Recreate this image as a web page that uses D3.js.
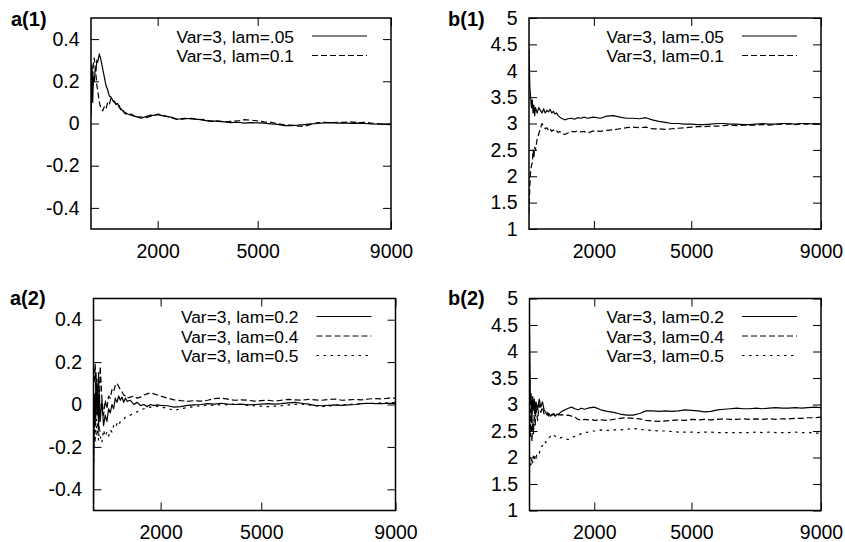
<!DOCTYPE html>
<html>
<head>
<meta charset="utf-8">
<script src="https://cdn.jsdelivr.net/npm/d3@7"></script>
<style>
    body { margin: 0; background: #fff; }
    svg { display: block; font-family: "Liberation Sans", Arial, Helvetica, sans-serif; }
</style>
</head>
<body>
<script>
// iteration steps shared by every series
const steps = [0, 25, 50, 75, 100, 125, 150, 175, 200, 250, 300, 350, 400, 450, 500, 550, 600, 650, 700, 750,
    800, 850, 900, 950, 1000, 1100, 1200, 1300, 1400, 1500, 1600, 1700, 1800, 1900, 2000, 2200, 2400, 2600, 2800, 3000,
    3200, 3400, 3600, 3800, 4000, 4200, 4400, 4600, 4800, 5000, 5200, 5400, 5600, 5800, 6000, 6200, 6400, 6600, 6800, 7000,
    7200, 7400, 7600, 7800, 8000, 8200, 8400, 8600, 8800, 9000];

// a(1)
const a1Lam05 = [0.03, 0.25, 0.1, 0.22, 0.2, 0.26, 0.25, 0.3, 0.29, 0.33, 0.3, 0.26, 0.22, 0.18, 0.16, 0.13, 0.125, 0.11, 0.105, 0.09,
    0.095, 0.075, 0.07, 0.06, 0.055, 0.045, 0.04, 0.035, 0.03, 0.025, 0.03, 0.035, 0.04, 0.038, 0.042, 0.035, 0.03, 0.02, 0.025, 0.022,
    0.02, 0.015, 0.01, 0.012, 0.008, 0.004, 0.006, 0.002, 0.004, 0.003, 0.002, -0.002, -0.004, -0.01, -0.01, -0.008, -0.005, -0.002, 0.0, 0.003,
    0.004, 0.002, 0.003, 0.001, 0.002, 0.0, -0.002, -0.003, -0.004, -0.003];
const a1Lam1 = [0.08, 0.28, 0.2, 0.3, 0.31, 0.27, 0.23, 0.18, 0.16, 0.1, 0.07, 0.06, 0.08, 0.07, 0.1, 0.09, 0.12, 0.11, 0.1, 0.095,
    0.08, 0.085, 0.06, 0.065, 0.05, 0.04, 0.045, 0.035, 0.03, 0.032, 0.025, 0.03, 0.035, 0.04, 0.045, 0.038, 0.028, 0.018, 0.022, 0.025,
    0.02, 0.018, 0.012, 0.01, 0.008, 0.01, 0.012, 0.018, 0.016, 0.012, 0.008, 0.005, 0.0, -0.006, -0.008, -0.012, -0.014, -0.004, 0.004, 0.006,
    0.004, 0.006, 0.005, 0.008, 0.004, 0.006, 0.002, 0.0, -0.004, -0.005];

// b(1)
const b1Lam05 = [4.4, 3.7, 3.5, 3.3, 3.45, 3.2, 3.35, 3.15, 3.3, 3.2, 3.3, 3.25, 3.2, 3.28, 3.2, 3.25, 3.22, 3.27, 3.2, 3.23,
    3.18, 3.2, 3.15, 3.12, 3.1, 3.07, 3.09, 3.1, 3.08, 3.11, 3.1, 3.12, 3.1, 3.11, 3.12, 3.1, 3.14, 3.15, 3.12, 3.1,
    3.1, 3.09, 3.11, 3.07, 3.04, 3.02, 3.0, 3.0, 2.99, 2.99, 2.98, 2.98, 2.99, 3.0, 3.0, 2.99, 2.99, 2.98, 2.98, 2.99,
    3.0, 2.99, 2.99, 3.0, 3.0, 2.99, 3.0, 3.0, 2.99, 2.99];
const b1Lam1 = [1.3, 1.8, 2.1, 2.2, 2.25, 2.5, 2.35, 2.55, 2.5, 2.7, 2.8, 2.9, 3.0, 2.95, 2.9, 2.92, 2.87, 2.9, 2.85, 2.88,
    2.84, 2.86, 2.83, 2.85, 2.82, 2.79, 2.82, 2.85, 2.84, 2.86, 2.84, 2.85, 2.82, 2.84, 2.86, 2.85, 2.87, 2.88, 2.9, 2.92,
    2.93, 2.92, 2.93, 2.9, 2.9, 2.89, 2.9, 2.91, 2.92, 2.93, 2.94, 2.94, 2.95, 2.95, 2.96, 2.97, 2.96, 2.97, 2.97, 2.97,
    2.98, 2.97, 2.98, 2.99, 2.99, 2.98, 2.99, 2.99, 3.0, 2.99];

// a(2)
const a2Lam2 = [-0.5, 0.05, -0.1, 0.15, -0.05, 0.1, -0.12, 0.05, -0.08, 0.02, -0.1, -0.05, -0.08, -0.02, -0.04, 0.0, -0.02, 0.03, 0.01, 0.04,
    0.02, 0.035, 0.01, 0.03, 0.015, 0.02, 0.0, 0.01, -0.005, 0.0, -0.01, 0.0, -0.005, -0.002, -0.004, -0.006, -0.012, -0.01, -0.004, -0.002,
    0.0, 0.004, 0.002, 0.006, 0.002, 0.0, 0.002, -0.002, 0.0, 0.002, 0.004, 0.002, 0.004, 0.008, 0.01, 0.006, 0.002, -0.004, -0.006, -0.004,
    -0.002, -0.004, -0.002, 0.0, 0.004, 0.006, 0.004, 0.004, 0.006, 0.005];
const a2Lam4 = [0.18, 0.1, 0.19, 0.02, 0.12, -0.05, 0.15, 0.0, 0.18, 0.03, -0.05, 0.02, -0.02, 0.04, 0.03, 0.07, 0.06, 0.09, 0.1, 0.085,
    0.07, 0.06, 0.045, 0.04, 0.03, 0.035, 0.04, 0.03, 0.035, 0.045, 0.05, 0.055, 0.05, 0.045, 0.04, 0.03, 0.022, 0.018, 0.015, 0.018,
    0.016, 0.02, 0.028, 0.03, 0.025, 0.02, 0.022, 0.02, 0.016, 0.018, 0.02, 0.016, 0.02, 0.024, 0.022, 0.02, 0.024, 0.022, 0.02, 0.024,
    0.026, 0.02, 0.022, 0.024, 0.022, 0.026, 0.028, 0.026, 0.03, 0.03];
const a2Lam5 = [-0.3, -0.05, -0.18, 0.0, -0.15, -0.08, -0.17, -0.1, -0.15, -0.18, -0.12, -0.15, -0.13, -0.15, -0.12, -0.13, -0.1, -0.11, -0.09, -0.1,
    -0.08, -0.075, -0.07, -0.06, -0.055, -0.05, -0.04, -0.035, -0.025, -0.02, -0.015, -0.012, -0.01, -0.008, -0.012, -0.018, -0.028, -0.02, -0.014, -0.01,
    -0.006, -0.002, -0.004, 0.0, -0.002, 0.002, 0.0, -0.004, -0.006, -0.008, -0.01, -0.008, -0.006, -0.002, 0.0, 0.002, -0.002, -0.006, -0.01, -0.008,
    -0.004, -0.002, 0.0, 0.002, 0.004, 0.006, 0.006, 0.008, 0.008, 0.01];

// b(2)
const b2Lam2 = [4.4, 3.0, 3.2, 2.7, 3.15, 2.9, 3.1, 2.85, 3.05, 2.9, 3.1, 2.95, 3.05, 2.9, 2.85, 2.8, 2.83, 2.78, 2.82, 2.8,
    2.78, 2.82, 2.8, 2.85, 2.87, 2.9, 2.93, 2.95, 2.92, 2.9, 2.93, 2.91, 2.93, 2.94, 2.95, 2.9, 2.87, 2.85, 2.82, 2.8,
    2.8, 2.83, 2.88, 2.88, 2.87, 2.88, 2.87, 2.88, 2.9, 2.89, 2.88, 2.86, 2.87, 2.9, 2.91, 2.92, 2.93, 2.92, 2.92, 2.93,
    2.92, 2.93, 2.94, 2.93, 2.93, 2.94, 2.93, 2.94, 2.95, 2.94];
const b2Lam4 = [3.8, 2.4, 2.9, 2.3, 2.7, 2.45, 2.9, 2.6, 2.95, 2.7, 3.0, 2.85, 2.95, 2.82, 2.8, 2.85, 2.78, 2.82, 2.8, 2.83,
    2.79, 2.8, 2.82, 2.8, 2.81, 2.79, 2.8, 2.78, 2.76, 2.72, 2.7, 2.72, 2.71, 2.72, 2.7, 2.71, 2.7, 2.72, 2.74, 2.75,
    2.74, 2.73, 2.7, 2.69, 2.68, 2.69, 2.7, 2.71, 2.7, 2.72, 2.71, 2.72, 2.71, 2.72, 2.73, 2.72, 2.72, 2.73, 2.72, 2.73,
    2.72, 2.73, 2.72, 2.73, 2.73, 2.74, 2.74, 2.75, 2.75, 2.76];
const b2Lam5 = [1.7, 2.0, 1.85, 2.0, 1.9, 2.05, 1.98, 2.05, 2.0, 2.1, 2.08, 2.2, 2.22, 2.3, 2.28, 2.35, 2.37, 2.4, 2.38, 2.42,
    2.4, 2.38, 2.39, 2.37, 2.38, 2.35, 2.34, 2.37, 2.4, 2.42, 2.45, 2.47, 2.48, 2.5, 2.5, 2.52, 2.51, 2.52, 2.52, 2.53,
    2.55, 2.53, 2.52, 2.51, 2.5, 2.5, 2.49, 2.48, 2.48, 2.48, 2.47, 2.48, 2.48, 2.47, 2.47, 2.47, 2.47, 2.47, 2.47, 2.48,
    2.47, 2.48, 2.47, 2.47, 2.47, 2.48, 2.47, 2.47, 2.46, 2.46];

// ticks
const xTicks = [2000, 5000, 9000];
const aTicks = [-0.4, -0.2, 0, 0.2, 0.4];
const aTickLabels = ["-0.4", "-0.2", "0", "0.2", "0.4"];
const bTicks = [1, 1.5, 2, 2.5, 3, 3.5, 4, 4.5, 5];
const bTickLabels = ["1", "1.5", "2", "2.5", "3", "3.5", "4", "4.5", "5"];

const dashes = { solid: null, dashed: "6,3", dotted: "2.5,4.5" };

let wSvg = 845;
let hSvg = 542;
let fontSize = 19.5;
let legendSize = 17.4; // rows are packed tight, keep the boxes from touching
let tick = 8;

let panels = [
    {
        title: "a(1)", tx: 11, ty: 26, left: 91, right: 391, top: 18, bottom: 229,
        yDomain: [-0.5, 0.5], yTicks: aTicks, yLabels: aTickLabels,
        series: [
            { name: "Var=3, lam=.05", values: a1Lam05, style: "solid" },
            { name: "Var=3, lam=0.1", values: a1Lam1, style: "dashed" },
        ],
    },
    {
        title: "b(1)", tx: 448, ty: 26, left: 529, right: 821, top: 18, bottom: 229,
        yDomain: [1, 5], yTicks: bTicks, yLabels: bTickLabels,
        series: [
            { name: "Var=3, lam=.05", values: b1Lam05, style: "solid" },
            { name: "Var=3, lam=0.1", values: b1Lam1, style: "dashed" },
        ],
    },
    {
        title: "a(2)", tx: 10, ty: 305, left: 93.5, right: 395.5, top: 298.5, bottom: 510.5,
        yDomain: [-0.5, 0.5], yTicks: aTicks, yLabels: aTickLabels,
        series: [
            { name: "Var=3, lam=0.2", values: a2Lam2, style: "solid" },
            { name: "Var=3, lam=0.4", values: a2Lam4, style: "dashed" },
            { name: "Var=3, lam=0.5", values: a2Lam5, style: "dotted" },
        ],
    },
    {
        title: "b(2)", tx: 448, ty: 305, left: 529.5, right: 821, top: 298.5, bottom: 510.5,
        yDomain: [1, 5], yTicks: bTicks, yLabels: bTickLabels,
        series: [
            { name: "Var=3, lam=0.2", values: b2Lam2, style: "solid" },
            { name: "Var=3, lam=0.4", values: b2Lam4, style: "dashed" },
            { name: "Var=3, lam=0.5", values: b2Lam5, style: "dotted" },
        ],
    },
];

let svg = d3
    .select("body")
    .append("svg")
    .attr("width", wSvg)
    .attr("height", hSvg);

panels.forEach((p, pi) => {
    let x = d3.scaleLinear().domain([0, 9000]).range([p.left, p.right]);
    let y = d3.scaleLinear().domain(p.yDomain).range([p.bottom, p.top]);

    let g = svg.append("g");

    // clip so the early spikes stay inside the frame
    svg.append("clipPath")
        .attr("id", "clip" + pi)
        .append("rect")
        .attr("x", p.left)
        .attr("y", p.top)
        .attr("width", p.right - p.left)
        .attr("height", p.bottom - p.top);

    // axes, ticks point inwards on all four sides
    let left = g.append("g")
        .attr("transform", `translate(${p.left},0)`)
        .call(d3.axisLeft(y).tickValues(p.yTicks).tickFormat((d, i) => p.yLabels[i]).tickSize(-tick).tickPadding(11.5));
    let right = g.append("g")
        .attr("transform", `translate(${p.right},0)`)
        .call(d3.axisRight(y).tickValues(p.yTicks).tickFormat("").tickSize(-tick));
    let bottom = g.append("g")
        .attr("transform", `translate(0,${p.bottom})`)
        .call(d3.axisBottom(x).tickValues(xTicks).tickFormat(d3.format("d")).tickSize(-tick).tickPadding(15));
    let top = g.append("g")
        .attr("transform", `translate(0,${p.top})`)
        .call(d3.axisTop(x).tickValues(xTicks).tickFormat("").tickSize(-tick));

    [left, right, bottom, top].forEach((a) => {
        a.select(".domain").remove();
        a.selectAll("line").attr("stroke", "#000").attr("stroke-width", 1);
        a.selectAll("text")
            .attr("fill", "#000")
            .style("font-size", fontSize + "px")
            .style("font-family", '"Liberation Sans", Arial, sans-serif');
    });

    // data lines
    let line = d3.line()
        .x((d, i) => x(steps[i]))
        .y((d) => y(d));

    g.append("g")
        .attr("clip-path", `url(#clip${pi})`)
        .selectAll("path")
        .data(p.series)
        .enter()
        .append("path")
        .attr("d", (s) => line(s.values))
        .attr("fill", "none")
        .attr("stroke", "#000")
        .attr("stroke-width", 1.2)
        .attr("stroke-linejoin", "round")
        .attr("stroke-dasharray", (s) => dashes[s.style]);

    // frame
    g.append("rect")
        .attr("x", p.left)
        .attr("y", p.top)
        .attr("width", p.right - p.left)
        .attr("height", p.bottom - p.top)
        .attr("fill", "none")
        .attr("stroke", "#000")
        .attr("stroke-width", 1.5);

    // legend, top right inside the frame
    let leg = g.selectAll(".leg")
        .data(p.series)
        .enter()
        .append("g")
        .attr("transform", (s, i) => `translate(0,${p.top + 18 + i * 19.5})`);
    leg.append("text")
        .attr("x", p.right - 97)
        .attr("y", 6.5)
        .attr("text-anchor", "end")
        .style("font-size", legendSize + "px")
        .text((s) => s.name);
    leg.append("line")
        .attr("x1", p.right - 79)
        .attr("x2", p.right - 24)
        .attr("stroke", "#000")
        .attr("stroke-width", 1)
        .attr("stroke-dasharray", (s) => dashes[s.style]);

    // panel title
    g.append("text")
        .attr("x", p.tx)
        .attr("y", p.ty)
        .style("font-size", "20px")
        .style("font-weight", "bold")
        .text(p.title);
});
</script>
</body>
</html>
